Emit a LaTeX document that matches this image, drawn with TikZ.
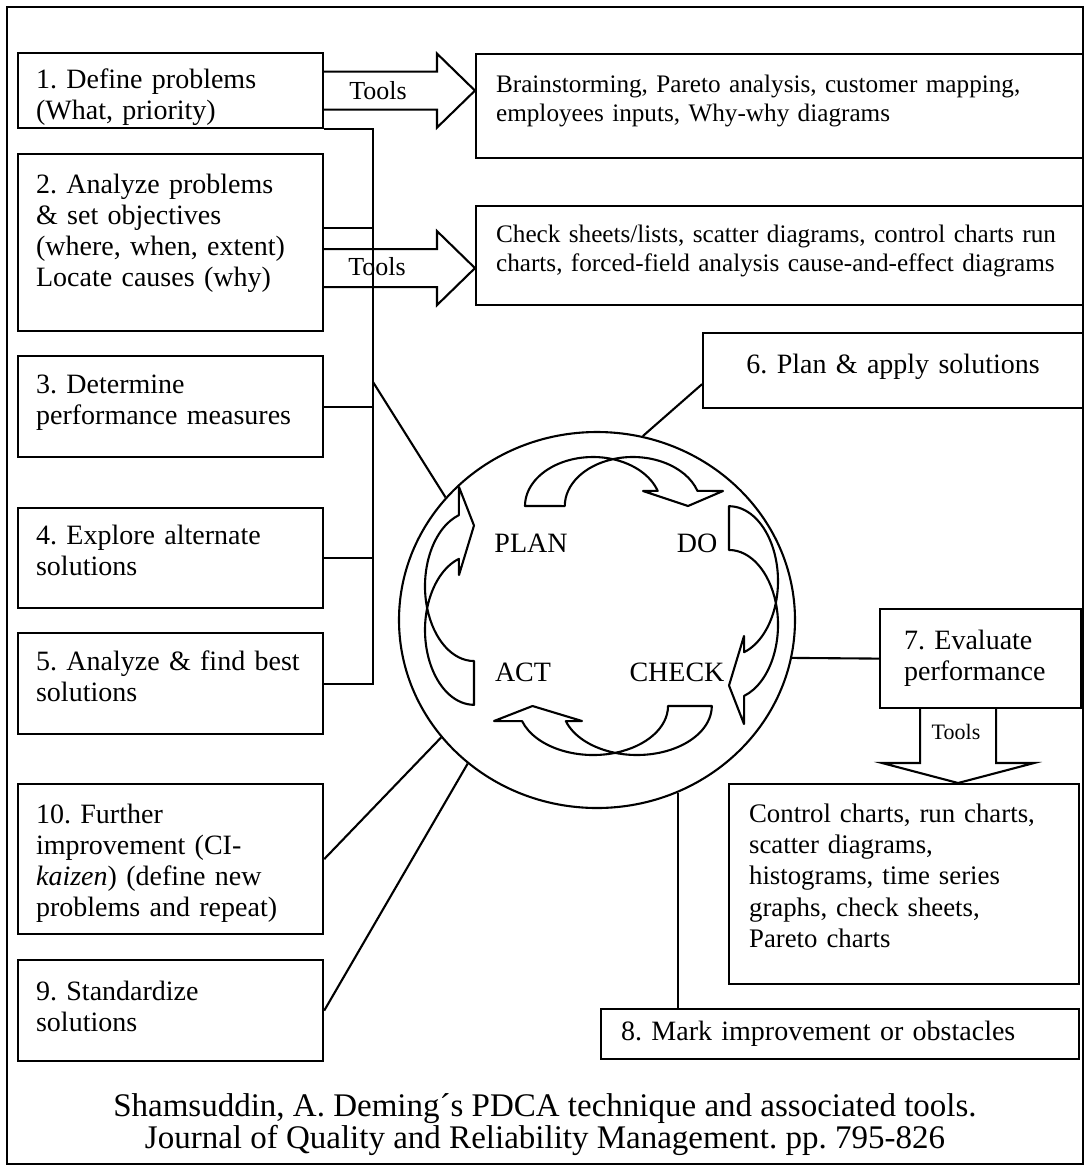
\documentclass[tikz,border=0pt]{standalone}
\usepackage{fontspec}
\setmainfont{Liberation Serif}
\usetikzlibrary{shapes.geometric,calc}
\frenchspacing

% One curved block arrow of the PDCA ring, drawn in local units:
% the two arcs cross at the origin, the tail is on the left, the head on the right.
\newcommand\pdcaarrow{%
  \draw[ringarrow] (-88,-49)
    arc[start angle=180, end angle=73, x radius=68, y radius=49]
    arc[start angle=107, end angle=18, x radius=68, y radius=49]
    -- (110,-34) -- (75,-49) -- (30,-34) -- (44.7,-33.9)
    arc[start angle=18, end angle=73, x radius=68, y radius=49]
    arc[start angle=107, end angle=180, x radius=68, y radius=49]
    -- cycle;}

% Horizontal "Tools" block arrow from a box edge (#1) to a tip (#2)
\newcommand\toolarrow[2]{%
  \draw[conn] ($(#1)+(0,-19)$) -- ($(#2)+(-38,-19)$) -- ($(#2)+(-38,-37)$)
    -- (#2) -- ($(#2)+(-38,37)$) -- ($(#2)+(-38,19)$) -- ($(#1)+(0,19)$);}

% invisible struts that move a text block inside its box
\newcommand\liftline[1]{\rule[-#1]{0pt}{#1}}
\newcommand\dropline[1]{\rule{0pt}{#1}}

\tikzset{
  conn/.style={line width=1.05pt, line join=miter},
  ringarrow/.style={draw, line width=1.05pt, line join=round},
  box/.style={draw, line width=1.1pt, anchor=north west, align=left,
    inner xsep=9pt, inner ysep=0pt, font=\fontsize{14}{15.5}\selectfont},
  toolbox/.style={box, inner xsep=10pt, font=\fontsize{12.6}{14.8}\selectfont},
  toolslabel/.style={font=\fontsize{13}{13}\selectfont, inner sep=0pt},
  pdca/.style={font=\fontsize{14}{14}\selectfont, inner sep=0pt},
  cite/.style={font=\fontsize{16.5}{17}\selectfont, inner sep=0pt},
}

\begin{document}
\begin{tikzpicture}[x=0.5pt, y=-0.5pt]
\useasboundingbox (0,0) rectangle (1086,1169);
\draw[line width=0.8pt] (7,7) rectangle (1083,1164);

% ---- left column of steps
\node[box, minimum width=152.5pt, minimum height=37.5pt, text width=134.5pt] (b1) at (17,52)
  {\dropline{16.5pt}1. Define problems\\(What, priority)};
\node[box, minimum width=152.5pt, minimum height=88.5pt, text width=134.5pt] (b2) at (17,153)
  {2. Analyze problems\\\& set objectives\\(where, when, extent)\\Locate causes (why)\liftline{12pt}};
\node[box, minimum width=152.5pt, minimum height=50.5pt, text width=134.5pt] (b3) at (17,355)
  {3. Determine\\performance measures\liftline{7pt}};
\node[box, minimum width=152.5pt, minimum height=50pt, text width=134.5pt] (b4) at (17,507)
  {4. Explore alternate\\solutions\liftline{8pt}};
\node[box, minimum width=152.5pt, minimum height=50.5pt, text width=134.5pt] (b5) at (17,632)
  {5. Analyze \& find best\\solutions\liftline{7pt}};
\node[box, minimum width=152.5pt, minimum height=75pt, text width=134.5pt] (b10) at (17,783)
  {\dropline{13.5pt}10. Further\\improvement (CI-\\\textit{kaizen}) (define new\\problems and repeat)};
\node[box, minimum width=152.5pt, minimum height=50.5pt, text width=134.5pt] (b9) at (17,959)
  {9. Standardize\\solutions\liftline{4.5pt}};

% ---- tool lists
\node[toolbox, minimum width=303.5pt, minimum height=52pt, text width=283.5pt] (t1) at (475,53)
  {Brainstorming, Pareto analysis, customer mapping,\\employees inputs, Why-why diagrams\liftline{8pt}};
\node[toolbox, minimum width=303.5pt, minimum height=49.5pt, text width=283.5pt] (t2) at (475,205)
  {Check sheets/lists, scatter diagrams, control charts run\\charts, forced-field analysis cause-and-effect diagrams\liftline{7.5pt}};

% ---- right side steps
\node[box, align=center, minimum width=190pt, minimum height=37.5pt, text width=172pt] (b6) at (702,332)
  {6. Plan \& apply solutions\liftline{7pt}};
\node[box, inner xsep=12pt, minimum width=100.5pt, minimum height=49.5pt, text width=76.5pt] (b7) at (879,608)
  {7. Evaluate\\performance};
\node[box, inner xsep=10pt, font=\fontsize{13.4}{15.7}\selectfont, minimum width=175pt, minimum height=100pt, text width=155pt] (t7) at (728,783)
  {Control charts, run charts,\\scatter diagrams,\\histograms, time series\\graphs, check sheets,\\Pareto charts\liftline{8.5pt}};
\node[box, inner xsep=10pt, minimum width=239pt, minimum height=25pt, text width=219pt] (b8) at (600,1008)
  {8. Mark improvement or obstacles};

% ---- PDCA ring
\node[ellipse, draw, line width=1.05pt, minimum width=198pt, minimum height=188pt, inner sep=0pt] (ring) at (597,620) {};
\begin{scope}[shift={(613,457)}, yscale=-1]
  \pdcaarrow
\end{scope}
\begin{scope}[shift={(778,603)}, rotate=-90, yscale=-1, xscale=1.1]
  \pdcaarrow
\end{scope}
\begin{scope}[shift={(615,755)}, rotate=180, yscale=-1, xscale=1.1]
  \pdcaarrow
\end{scope}
\begin{scope}[shift={(425,608)}, rotate=90, yscale=-1, xscale=1.1]
  \pdcaarrow
\end{scope}
\node[pdca] (plan)  at (531,543) {PLAN};
\node[pdca] (do)    at (697,543) {DO};
\node[pdca] (act)   at (523,672) {ACT};
\node[pdca] (check) at (677,672) {CHECK};

% ---- bus joining steps 1 to 5
\coordinate (bus) at (373,0);
\draw[conn] (b1.south east) -- (b1.south east -| bus) -- (b5.east -| bus) -- (b5.east);
\draw[conn] ($(b2.north east)+(0,75)$) -- ($(b2.north east -| bus)+(0,75)$);
\draw[conn] (b3.east) -- (b3.east -| bus);
\draw[conn] (b4.east) -- (b4.east -| bus);
\draw[conn] ($(b3.north east -| bus)+(0,27)$) -- (ring.141);

% ---- tool arrows
\coordinate (a1tip) at (t1.west |- b1.east);
\coordinate (a1s) at (b1.east |- a1tip);
\toolarrow{a1s}{a1tip}
\node[toolslabel] (tl1) at (378,91) {Tools};
\coordinate (a2tip) at ($(t2.west)+(0,12.5)$);
\coordinate (a2s) at (b2.east |- a2tip);
\toolarrow{a2s}{a2tip}
\node[toolslabel] (tl2) at (377,267) {Tools};

\coordinate (a7tip) at ($(t7.north)+(54,0)$);
\draw[conn] ($(a7tip)+(-38,-76)$) -- ($(a7tip)+(-38,-20)$) -- ($(a7tip)+(-76,-20)$)
  -- (a7tip) -- ($(a7tip)+(76,-20)$) -- ($(a7tip)+(38,-20)$) -- ($(a7tip)+(38,-76)$);
\node[toolslabel, font=\fontsize{11}{11}\selectfont] (tl7) at (956,732) {Tools};

% ---- spokes to the ring
\draw[conn] ($(b6.south west)+(0,-25)$) -- (ring.76.8);
\draw[conn] (b7.west) -- (ring.-11);
\draw[conn] (ring.-65) -- (ring.-65 |- b8.north);
\draw[conn] (b10.east) -- (ring.217.7);
\draw[conn] (b9.east) -- (ring.228.8);

% ---- source line
\node[cite] (cite1) at (545,1109) {Shamsuddin, A. Deming´s PDCA technique and associated tools.};
\node[cite] (cite2) at (545,1140) {Journal of Quality and Reliability Management. pp. 795-826};
\end{tikzpicture}
\end{document}
